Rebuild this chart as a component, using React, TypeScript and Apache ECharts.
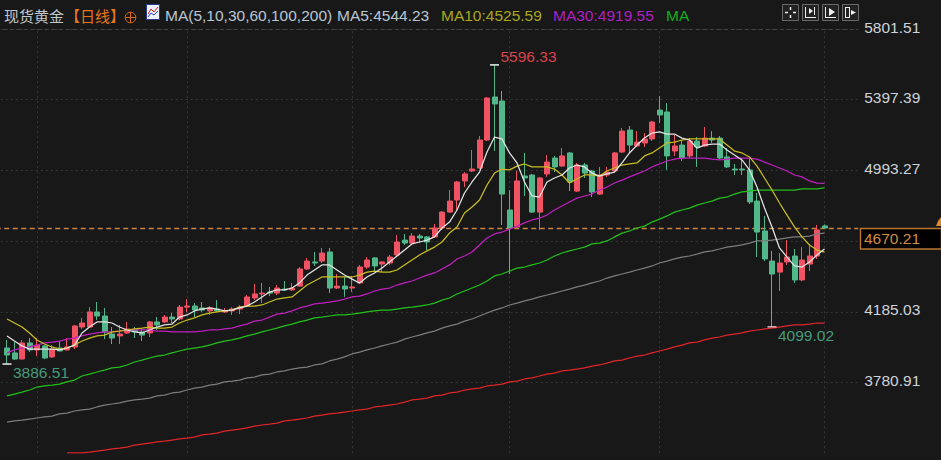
import React, { useEffect, useRef } from "react";
import * as echarts from "echarts";

const candles: number[][] = [
  [3978,3938,3886.51,4024],[3950,3915,3910,4012],[3915,4007,3913,4024],[4007,3967,3955,4035],[3967,3995,3932,4035],
  [3990,3921,3915,3995],[3927,3972,3921,3995],[3978,3961,3961,4018],[3967,3984,3965,4035],[3984,4104,3972,4110],
  [4098,4121,4087,4150],[4098,4184,4095,4212],[4184,4161,4138,4241],[4161,4070,4029,4207],[4058,4035,4001,4098],
  [4047,4058,4001,4110],[4064,4087,4058,4127],[4081,4070,4035,4098],[4070,4052,4018,4092],[4064,4127,4041,4132],
  [4127,4110,4081,4155],[4127,4155,4121,4167],[4155,4144,4121,4178],[4144,4212,4138,4224],[4212,4218,4184,4258],
  [4218,4195,4155,4235],[4207,4195,4184,4241],[4190,4207,4167,4218],[4201,4190,4184,4252],[4184,4190,4178,4207],
  [4190,4201,4167,4212],[4201,4212,4172,4224],[4218,4270,4212,4281],[4264,4287,4252,4344],[4287,4292,4235,4350],
  [4298,4292,4275,4327],[4292,4321,4281,4338],[4315,4310,4304,4361],[4310,4321,4304,4350],[4332,4430,4327,4441],
  [4430,4475,4424,4493],[4470,4464,4447,4527],[4475,4521,4464,4550],[4527,4321,4292,4550],[4321,4332,4315,4401],
  [4332,4315,4270,4384],[4321,4327,4298,4390],[4350,4441,4344,4453],[4441,4481,4430,4498],[4493,4447,4412,4498],
  [4458,4470,4412,4473],[4464,4498,4453,4510],[4510,4584,4504,4624],[4595,4578,4567,4630],[4578,4618,4573,4635],
  [4618,4607,4578,4630],[4613,4584,4538,4618],[4613,4664,4607,4687],[4664,4755,4653,4761],[4755,4818,4750,4881],
  [4824,4927,4767,4933],[4933,4973,4898,4984],[4990,5001,4984,5110],[5007,5167,5001,5190],[5167,5407,5161,5413],
  [5413,5373,5104,5596.33],[5390,4858,4681,5447],[4767,4664,4401,4881],[4670,4933,4665,4990],[4961,4950,4847,5093],
  [4967,4755,4750,4973],[4755,4950,4653,4956],[4973,5041,4956,5081],[5064,5013,4984,5076],[5018,5076,5013,5121],
  [5093,4927,4875,5098],[4875,5024,4870,5036],[5024,4978,4950,5036],[4990,4870,4841,4996],[4858,4967,4853,5013],
  [4967,4984,4956,5013],[4990,5093,4984,5098],[5098,5218,5093,5236],[5224,5138,5093,5247],[5133,5155,5127,5218],
  [5150,5173,5127,5207],[5173,5270,5161,5276],[5338,5310,5264,5418],[5327,5076,4996,5378],[5104,5133,5076,5196],
  [5138,5064,5047,5167],[5076,5161,5064,5178],[5161,5127,5013,5184],[5133,5178,5127,5241],[5178,5167,5150,5218],
  [5178,5064,5058,5190],[5070,5013,5007,5121],[5001,4996,4967,5030],[5001,4996,4967,5064],[4996,4813,4801,5064],
  [4818,4641,4498,4864],[4647,4487,4475,4733],[4475,4401,4099.02,4533],[4412,4464,4304,4521],[4470,4498,4453,4595],
  [4504,4367,4350,4544],[4367,4481,4360,4555],[4458,4504,4418,4573],[4504,4653,4487,4681],[4676,4664,4662,4685],
];

const ma5 = [
  4047,4018,3990,3972,3972,3972,3972,3967,3978,3995,4064,4098,4127,4127,4121,4098,4081,4070,4064,4081,4098,4110,4115,4155,4167,4190,4201,4207,4201,4190,
  4195,4207,4218,4241,4270,4298,4310,4310,4321,4350,4395,4424,4453,4453,4424,4395,4372,4350,4384,4407,4435,4470,4504,4538,4573,4584,4595,4613,
  4664,4698,4767,4864,4927,4984,5098,5184,5173,5093,5036,4927,4847,4841,4927,4950,4967,5007,5024,5013,4978,4961,4973,4984,5036,5093,5138,5178,5207,5213,
  5201,5201,5178,5167,5121,5138,5144,5144,5110,5081,5053,4996,4898,4778,4670,4550,4498,4447,4441,4470,4510,4544.23,
];
const ma10 = [
  4144,4121,4098,4064,4024,4001,3984,3972,3978,3995,4018,4035,4047,4052,4070,4075,4081,4087,4092,4098,4092,4092,4098,4121,4138,4150,4167,4178,4184,4190,
  4195,4212,4218,4218,4224,4241,4258,4264,4270,4304,4338,4361,4384,4384,4384,4384,4384,4395,4412,4418,4412,4412,4424,4453,4481,4510,4533,4555,
  4584,4635,4670,4750,4784,4824,4910,4978,5001,4996,5018,5030,5013,5013,5013,5001,4967,4921,4944,4967,4967,4961,4990,5007,5024,5030,5036,
  5076,5093,5121,5150,5155,5167,5173,5173,5173,5173,5173,5138,5104,5093,5070,5018,4950,4881,4807,4738,4670,4613,4567,4538,4525.59,
];
const ma30 = [
  3950,3967,3978,3984,3995,4007,4012,4018,4029,4035,4047,4058,4064,4070,4070,4075,4081,4081,4081,4081,4075,4075,4070,4070,4070,4070,4075,4081,4081,4087,
  4092,4104,4115,4132,4138,4155,4172,4178,4190,4207,4218,4230,4235,4241,4247,4258,4270,4275,4287,4304,4315,4321,4338,4350,4361,4378,4395,4407,
  4430,4453,4487,4504,4527,4567,4607,4630,4641,4658,4675,4693,4710,4721,4738,4767,4790,4813,4835,4847,4858,4881,4898,4921,4938,4956,4973,
  4990,5013,5030,5047,5058,5064,5064,5064,5064,5058,5053,5058,5064,5064,5064,5058,5041,5024,5007,4990,4967,4956,4933,4921,4919.55,
];
const ma60 = [
  3704,3715,3726,3738,3755,3761,3766,3772,3784,3795,3818,3829,3841,3852,3864,3869,3881,3898,3909,3921,3932,3938,3950,3961,3972,3978,3984,3995,4007,4018,
  4024,4035,4047,4058,4070,4081,4092,4104,4115,4127,4138,4150,4155,4161,4167,4167,4172,4178,4184,4190,4195,4195,4201,4207,4212,4218,4224,4235,4252,4264,4287,4304,4321,4338,
  4361,4390,4401,4418,4435,4441,4453,4464,4481,4504,4521,4533,4544,4555,4573,4578,4590,4613,4635,4647,4664,
  4675,4698,4715,4733,4755,4767,4778,4795,4807,4818,4835,4841,4858,4870,4875,4881,4881,4881,4881,4881,4881,4887,4887,4887,4893,
];
const ma100 = [
  3555,3561,3566,3572,3578,3584,3589,3601,3606,3618,3624,3629,3641,3652,3658,3664,3675,3681,3686,3692,3704,3709,3721,3726,3738,3749,3755,3766,3772,3784,
  3789,3795,3807,3812,3824,3829,3841,3847,3858,3864,3869,3881,3887,3904,3915,3927,3944,3955,3967,3978,3990,4001,4012,4029,4041,4052,4064,4075,4092,4104,
  4115,4132,4144,4161,4178,4195,4207,4224,4235,4247,4258,4270,4281,4292,4304,4315,4327,4338,4350,4361,4378,4390,4401,4412,4424,4435,4447,4464,4475,4487,
  4498,4504,4515,4527,4533,4544,4555,4561,4567,4578,4590,4590,4595,4601,4607,4613,4613,4618,4630,4635,
];
const ma200 = [
  null,null,null,null,null,null,null,null,
  3378,3378,3378,3383,3389,3395,3401,3406,3412,3423,3429,3435,3441,3446,3452,3458,3463,3469,3481,3486,3492,3503,
  3509,3515,3521,3532,3538,3543,3549,3561,3566,3572,3578,3589,3595,3601,3606,3612,3618,3624,3629,3641,3646,3652,3658,3669,3681,3686,3692,3704,3709,3721,
  3726,3738,3744,3749,3761,3766,3772,3784,3789,3801,3807,3818,3829,3835,3847,3852,3858,3864,3875,3881,3892,3904,3909,3921,3932,3938,3950,3961,3972,3984,
  3995,4007,4012,4024,4035,4041,4052,4058,4064,4075,4081,4087,4092,4098,4104,4110,4110,4115,4121,4121,
];

const axisTop = 5801.51;
const axisBottom = 3376.79;
const gridValues = [5801.51, 5397.39, 4993.27, 4589.15, 4185.03, 3780.91];
const labelValues = [5801.51, 5397.39, 4993.27, 4185.03, 3780.91];
const monthStarts = [4, 24, 46, 67, 87, 109];
const priceLine = 4664;
const priceTag = "4670.21";
const highMark = { index: 65, value: 5596.33 };
const lowMark = { index: 0, value: 3886.51 };
const recentLowMark = { index: 102, value: 4099.02 };

const LEAD = 1;
const TRAIL = 4;
const categories = Array.from({ length: LEAD + candles.length + TRAIL }, (_, i) => String(i));
const pad = (a: (number | null)[]) => [...Array(LEAD).fill(null), ...a, ...Array(TRAIL).fill(null)];

const LATIN = '"Liberation Sans", Arial, sans-serif';
const CJK = '"Noto Sans CJK SC", sans-serif';
const UP = "#ef5364";
const DOWN = "#52b88c";

function txt(x: number, s: string, fill: string, font = `15.5px ${LATIN}`) {
  return { type: "text", x, y: 15, silent: true, style: { text: s, fill, font, verticalAlign: "middle", align: "left" } };
}
function ln(x1: number, y1: number, x2: number, y2: number, stroke: string, w = 1) {
  return { type: "line", silent: true, shape: { x1, y1, x2, y2 }, style: { stroke, lineWidth: w } };
}
function box(x: number) {
  return { type: "rect", silent: true, shape: { x: x + 0.5, y: 4.5, width: 16, height: 16 }, style: { fill: "#222", stroke: "#6a6a6a", lineWidth: 1 } };
}

function maLine(name: string, data: (number | null)[], color: string) {
  return {
    name, type: "line", data: pad(data), showSymbol: false, symbol: "none", smooth: false, silent: true,
    lineStyle: { color, width: 1.25 }, z: 3, connectNulls: false,
  };
}

function mark(index: number, value: number, color: string, dy: number, symbolColor = "#f0f0f0") {
  return {
    coord: [index + LEAD, value], value, symbol: "rect", symbolSize: [9, 1.5],
    itemStyle: { color: symbolColor },
    label: {
      show: true, position: "right", offset: [-3.5, dy], color,
      fontSize: 15.5, fontFamily: LATIN, formatter: value.toFixed(2),
    },
  };
}

export default function App() {
  const ref = useRef<HTMLDivElement>(null);
  useEffect(() => {
    document.body.style.margin = "0";
    document.body.style.background = "#181818";
    const chart = echarts.init(ref.current!, undefined, { renderer: "svg", width: 941, height: 460 });
    const vertical = monthStarts.map((i) => ({
      xAxis: i + LEAD,
      lineStyle: { color: "#363636", type: [2, 3], width: 1 },
    }));
    chart.setOption({
      animation: false,
      backgroundColor: "#181818",
      grid: { left: -4.25, top: 29, width: 862.5, height: 424.2, containLabel: false, outerBoundsMode: "none" },
      xAxis: {
        type: "category", data: categories, boundaryGap: true,
        axisLine: { show: false }, axisTick: { show: false }, axisLabel: { show: false }, splitLine: { show: false },
      },
      yAxis: {
        type: "value", position: "right", min: axisBottom, max: axisTop, scale: true,
        axisLine: { show: false },
        axisTick: { show: false, customValues: gridValues },
        axisLabel: {
          customValues: labelValues, color: "#cdd3da", fontSize: 15.5, fontFamily: LATIN,
          align: "left", margin: 6, verticalAlign: "bottom", lineHeight: 4, formatter: (v: number) => v.toFixed(2),
        },
        splitLine: { show: true, lineStyle: { color: "#363636", type: [2, 3], width: 1 } },
      },
      series: [
        {
          name: "guides", type: "line", data: categories.map(() => null), symbol: "none", silent: true, z: 1,
          markLine: {
            silent: true, symbol: "none", animation: false, z: 1, label: { show: false },
            data: [
              ...vertical,
              { yAxis: axisTop, lineStyle: { color: "#444", type: [4, 3], width: 1 } },
              { yAxis: priceLine, lineStyle: { color: "#c8843c", type: [5, 3.5], width: 1.4 } },
            ],
          },
        },
        {
          name: "现货黄金", type: "candlestick", z: 2, barWidth: 5.5,
          data: pad(candles as any).map((c: any) => (c === null ? ["-", "-", "-", "-"] : c)),
          itemStyle: { color: UP, color0: DOWN, borderColor: UP, borderColor0: DOWN, borderWidth: 1 },
          markPoint: {
            silent: true, animation: false,
            data: [
              mark(highMark.index, highMark.value, "#d8434f", -8),
              mark(lowMark.index, lowMark.value, "#479a7c", 8),
              mark(recentLowMark.index, recentLowMark.value, "#479a7c", 9, "#e8b8b8"),
            ],
          },
        },
        maLine("MA200", ma200, "#e02528"),
        maLine("MA100", ma100, "#7c7c7c"),
        maLine("MA60", ma60, "#22c01a"),
        maLine("MA30", ma30, "#c01fc0"),
        maLine("MA10", ma10, "#c8bc20"),
        maLine("MA5", ma5, "#e4e4e4"),
      ],
      graphic: {
        elements: [
          txt(4, "现货黄金", "#c4c8cc", `15px ${CJK}`),
          txt(65, "【日线】", "#e8751a", `15px ${CJK}`),
          { type: "circle", silent: true, shape: { cx: 130.5, cy: 17.5, r: 5.3 }, style: { fill: "none", stroke: "#d9681a", lineWidth: 1 } },
          ln(125, 17.5, 136, 17.5, "#d9681a"),
          ln(130.5, 12, 130.5, 23, "#d9681a"),
          { type: "rect", silent: true, shape: { x: 146.5, y: 4.5, width: 13, height: 15 }, style: { fill: "#eef0ff", stroke: "#2a3a90", lineWidth: 1 } },
          { type: "polyline", silent: true, shape: { points: [[148, 14], [151, 9], [154, 12], [158, 7]] }, style: { stroke: "#e02020", fill: "none", lineWidth: 1 } },
          { type: "polyline", silent: true, shape: { points: [[148, 17], [151, 13], [154, 15], [158, 11]] }, style: { stroke: "#2040d0", fill: "none", lineWidth: 1 } },
          txt(165, "MA(5,10,30,60,100,200)", "#b8c6d4"),
          txt(337, "MA5:4544.23", "#b8c6d4"),
          txt(441, "MA10:4525.59", "#a9a81c"),
          txt(553, "MA30:4919.55", "#b01fc4"),
          txt(666, "MA", "#12b020"),

          box(782), box(802), box(822), box(842),
          ln(790.5, 7, 790.5, 10, "#eee", 1.5), ln(790.5, 15, 790.5, 18, "#eee", 1.5),
          ln(785, 12.5, 788, 12.5, "#eee", 1.5), ln(793, 12.5, 796, 12.5, "#eee", 1.5),
          ln(805.5, 7, 805.5, 18, "#eee"), ln(805.5, 17.5, 816, 17.5, "#eee"),
          ln(814.5, 7, 814.5, 15, "#eee"),
          { type: "polygon", silent: true, shape: { points: [[813, 11], [809, 8], [809, 14]] }, style: { fill: "#eee" } },
          ln(825.5, 7, 825.5, 18, "#eee"), ln(825.5, 17.5, 836, 17.5, "#eee"),
          { type: "polygon", silent: true, shape: { points: [[829, 8], [835, 12], [829, 16]] }, style: { fill: "#eee" } },
          ln(845.5, 7, 845.5, 18, "#eee"), ln(849.5, 7, 849.5, 18, "#eee"),
          ln(845.5, 7.5, 849.5, 7.5, "#eee"), ln(845.5, 17.5, 849.5, 17.5, "#eee"),
          { type: "polygon", silent: true, shape: { points: [[851, 10], [851, 15], [856, 12.5]] }, style: { fill: "#eee" } },

          { type: "rect", silent: true, z: 20, shape: { x: 860.5, y: 228.5, width: 81, height: 20.5 }, style: { fill: "#000", stroke: "#b87630", lineWidth: 1.4 } },
          { type: "text", silent: true, z: 21, x: 864, y: 238.5, style: { text: priceTag, fill: "#d08c40", font: `15.5px ${LATIN}`, verticalAlign: "middle", align: "left" } },
          { type: "polygon", silent: true, z: 21, shape: { points: [[936, 226], [941, 226], [941, 217], [938, 221]] }, style: { fill: "#d88a30" } },
        ],
      },
    });
    return () => chart.dispose();
  }, []);
  return <div ref={ref} style={{ position: "absolute", left: 0, top: 0, width: 941, height: 460 }} />;
}
